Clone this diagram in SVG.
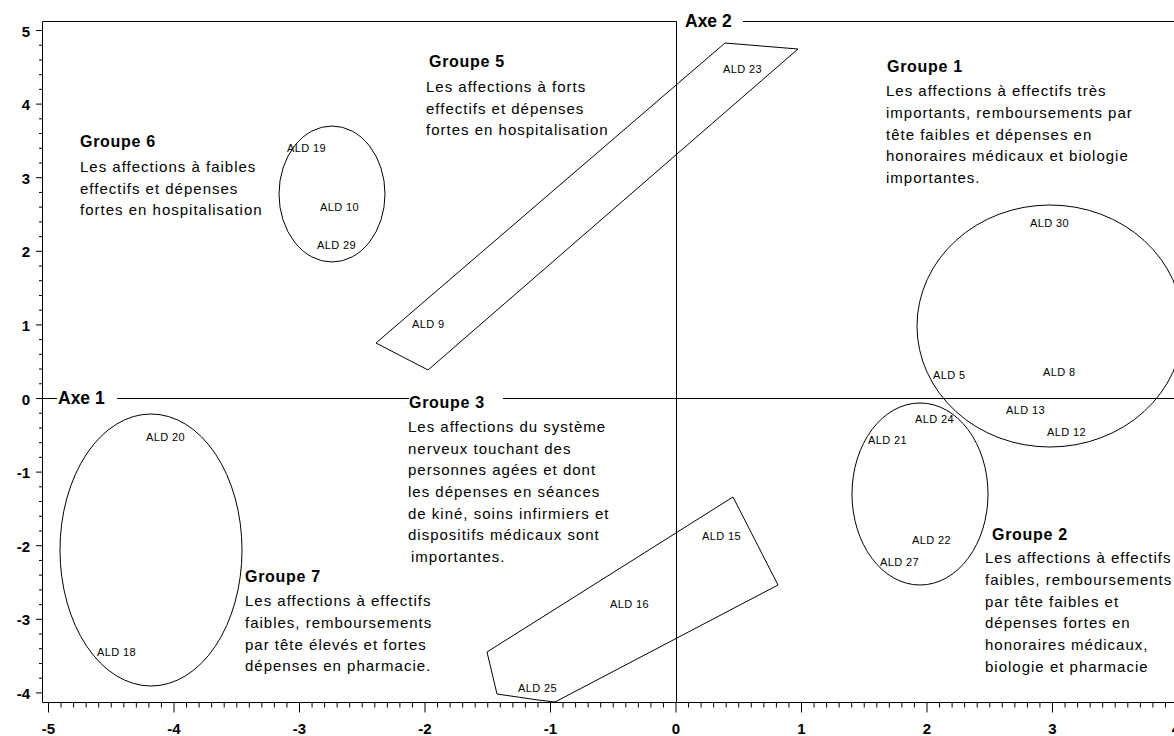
<svg xmlns="http://www.w3.org/2000/svg" width="1174" height="736" viewBox="0 0 1174 736">
<style>
.ln{stroke:#000;stroke-width:1;fill:none}
.sh{stroke:#000;stroke-width:1;fill:none}
.t{font-family:"Liberation Sans",Arial,sans-serif;font-size:15px;letter-spacing:1px;fill:#000}
.h{font-family:"Liberation Sans",Arial,sans-serif;font-size:16px;font-weight:bold;letter-spacing:0.7px;fill:#000}
.ald{font-family:"Liberation Sans",Arial,sans-serif;font-size:11px;letter-spacing:0.4px;fill:#000}
.ax{font-family:"Liberation Sans",Arial,sans-serif;font-size:17.5px;font-weight:bold;fill:#000}
.tk{font-family:"Liberation Sans",Arial,sans-serif;font-size:15px;font-weight:bold;fill:#000}
.tx{font-family:"Liberation Sans",Arial,sans-serif;font-size:15px;font-weight:bold;fill:#000;text-anchor:middle}
</style>
<rect width="1174" height="736" fill="#fff"/>
<g id="axes">
<path class="ln" d="M42.5,21.5H676.5M743,21.5H1174M42.5,21.5V702.5H1174M676.5,21.5V702.5M42.5,398.5H57M117,398.5H409M503,398.5H1174"/>
<path class="ln" d="M48.5,702.5v10m12.55,-10v5m12.55,-5v5m12.55,-5v5m12.55,-5v5m12.55,-5v5m12.55,-5v5m12.55,-5v5m12.55,-5v5m12.55,-5v5m12.55,-5v10m12.55,-10v5m12.55,-5v5m12.55,-5v5m12.55,-5v5m12.55,-5v5m12.55,-5v5m12.55,-5v5m12.55,-5v5m12.55,-5v5m12.55,-5v10m12.55,-10v5m12.55,-5v5m12.55,-5v5m12.55,-5v5m12.55,-5v5m12.55,-5v5m12.55,-5v5m12.55,-5v5m12.55,-5v5m12.55,-5v10m12.55,-10v5m12.55,-5v5m12.55,-5v5m12.55,-5v5m12.55,-5v5m12.55,-5v5m12.55,-5v5m12.55,-5v5m12.55,-5v5m12.55,-5v10m12.55,-10v5m12.55,-5v5m12.55,-5v5m12.55,-5v5m12.55,-5v5m12.55,-5v5m12.55,-5v5m12.55,-5v5m12.55,-5v5m12.55,-5v10m12.55,-10v5m12.55,-5v5m12.55,-5v5m12.55,-5v5m12.55,-5v5m12.55,-5v5m12.55,-5v5m12.55,-5v5m12.55,-5v5m12.55,-5v10m12.55,-10v5m12.55,-5v5m12.55,-5v5m12.55,-5v5m12.55,-5v5m12.55,-5v5m12.55,-5v5m12.55,-5v5m12.55,-5v5m12.55,-5v10m12.55,-10v5m12.55,-5v5m12.55,-5v5m12.55,-5v5m12.55,-5v5m12.55,-5v5m12.55,-5v5m12.55,-5v5m12.55,-5v5m12.55,-5v10m12.55,-10v5m12.55,-5v5m12.55,-5v5m12.55,-5v5m12.55,-5v5m12.55,-5v5m12.55,-5v5m12.55,-5v5m12.55,-5v5m12.55,-5v10"/>
<path class="ln" d="M36,30.5h6.5m-3.5,14.72h3.5m-3.5,14.72h3.5m-3.5,14.72h3.5m-3.5,14.72h3.5m-6.5,14.72h6.5m-3.5,14.72h3.5m-3.5,14.72h3.5m-3.5,14.72h3.5m-3.5,14.72h3.5m-6.5,14.72h6.5m-3.5,14.72h3.5m-3.5,14.72h3.5m-3.5,14.72h3.5m-3.5,14.72h3.5m-6.5,14.72h6.5m-3.5,14.72h3.5m-3.5,14.72h3.5m-3.5,14.72h3.5m-3.5,14.72h3.5m-6.5,14.72h6.5m-3.5,14.72h3.5m-3.5,14.72h3.5m-3.5,14.72h3.5m-3.5,14.72h3.5m-6.5,14.72h6.5m-3.5,14.72h3.5m-3.5,14.72h3.5m-3.5,14.72h3.5m-3.5,14.72h3.5m-6.5,14.72h6.5m-3.5,14.72h3.5m-3.5,14.72h3.5m-3.5,14.72h3.5m-3.5,14.72h3.5m-6.5,14.72h6.5m-3.5,14.72h3.5m-3.5,14.72h3.5m-3.5,14.72h3.5m-3.5,14.72h3.5m-6.5,14.72h6.5m-3.5,14.72h3.5m-3.5,14.72h3.5m-3.5,14.72h3.5m-3.5,14.72h3.5m-6.5,14.72h6.5"/>
<text class="ax" x="58" y="404">Axe 1</text>
<text class="ax" x="685" y="27">Axe 2</text>
<g class="tk" text-anchor="end">
<text x="30" y="37">5</text>
<text x="30" y="110">4</text>
<text x="30" y="184">3</text>
<text x="30" y="257">2</text>
<text x="30" y="331">1</text>
<text x="30" y="405">0</text>
<text x="30" y="478">-1</text>
<text x="30" y="552">-2</text>
<text x="30" y="625">-3</text>
<text x="30" y="699">-4</text>
</g>
<text class="tx" x="48.5" y="734">-5</text>
<text class="tx" x="174" y="734">-4</text>
<text class="tx" x="299.5" y="734">-3</text>
<text class="tx" x="425" y="734">-2</text>
<text class="tx" x="550.5" y="734">-1</text>
<text class="tx" x="676" y="734">0</text>
<text class="tx" x="801.5" y="734">1</text>
<text class="tx" x="927" y="734">2</text>
<text class="tx" x="1052.5" y="734">3</text>
<text class="tx" x="1176" y="734">4</text>
</g>
<g id="groupe1">
<ellipse class="sh" cx="1050" cy="326" rx="133" ry="121"/>
<text class="ald" x="1030" y="227">ALD 30</text>
<text class="ald" x="933" y="379">ALD 5</text>
<text class="ald" x="1043" y="376">ALD 8</text>
<text class="ald" x="1006" y="414">ALD 13</text>
<text class="ald" x="1047" y="436">ALD 12</text>
<text class="h" x="887" y="72">Groupe 1</text>
<text class="t"><tspan x="886" y="96">Les affections à effectifs très</tspan><tspan x="886" y="118">importants, remboursements par</tspan><tspan x="886" y="139.5">tête faibles et dépenses en</tspan><tspan x="886" y="161">honoraires médicaux et biologie</tspan><tspan x="886" y="183">importantes.</tspan></text>
</g>
<g id="groupe2">
<ellipse class="sh" cx="920" cy="494" rx="68" ry="91"/>
<text class="ald" x="915" y="423">ALD 24</text>
<text class="ald" x="868" y="444">ALD 21</text>
<text class="ald" x="912" y="544">ALD 22</text>
<text class="ald" x="880" y="566">ALD 27</text>
<text class="h" x="992" y="540">Groupe 2</text>
<text class="t"><tspan x="985" y="563">Les affections à effectifs</tspan><tspan x="985" y="585">faibles, remboursements</tspan><tspan x="985" y="606.5">par tête faibles et</tspan><tspan x="985" y="628">dépenses fortes en</tspan><tspan x="985" y="650">honoraires médicaux,</tspan><tspan x="985" y="671.5">biologie et pharmacie</tspan></text>
</g>
<g id="groupe3">
<polygon class="sh" points="733,497 778,585 555,702 538,700 497,694 487,652"/>
<text class="ald" x="702" y="540">ALD 15</text>
<text class="ald" x="610" y="608">ALD 16</text>
<text class="ald" x="518" y="692">ALD 25</text>
<text class="h" x="409" y="408">Groupe 3</text>
<text class="t"><tspan x="408" y="432">Les affections du système</tspan><tspan x="408" y="453.7">nerveux touchant des</tspan><tspan x="408" y="475.4">personnes agées et dont</tspan><tspan x="408" y="497">les dépenses en séances</tspan><tspan x="408" y="518.7">de kiné, soins infirmiers et</tspan><tspan x="408" y="540.4">dispositifs médicaux sont</tspan><tspan x="411" y="562">importantes.</tspan></text>
</g>
<g id="groupe5">
<polygon class="sh" points="725,43 798,49 428,370 376,343"/>
<text class="ald" x="723" y="73">ALD 23</text>
<text class="ald" x="412" y="328">ALD 9</text>
<text class="h" x="429" y="67">Groupe 5</text>
<text class="t"><tspan x="426" y="92">Les affections à forts</tspan><tspan x="426" y="113.7">effectifs et dépenses</tspan><tspan x="426" y="135.4">fortes en hospitalisation</tspan></text>
</g>
<g id="groupe6">
<ellipse class="sh" cx="332" cy="194" rx="53" ry="68"/>
<text class="ald" x="287" y="152">ALD 19</text>
<text class="ald" x="320" y="211">ALD 10</text>
<text class="ald" x="317" y="249">ALD 29</text>
<text class="h" x="80" y="147">Groupe 6</text>
<text class="t"><tspan x="80" y="172">Les affections à faibles</tspan><tspan x="80" y="193.7">effectifs et dépenses</tspan><tspan x="80" y="215.4">fortes en hospitalisation</tspan></text>
</g>
<g id="groupe7">
<ellipse class="sh" cx="151" cy="550" rx="91" ry="136"/>
<text class="ald" x="146" y="441">ALD 20</text>
<text class="ald" x="97" y="656">ALD 18</text>
<text class="h" x="245" y="582">Groupe 7</text>
<text class="t"><tspan x="245" y="606">Les affections à effectifs</tspan><tspan x="245" y="628">faibles, remboursements</tspan><tspan x="245" y="649.5">par tête élevés et fortes</tspan><tspan x="245" y="671">dépenses en pharmacie.</tspan></text>
</g>
</svg>
